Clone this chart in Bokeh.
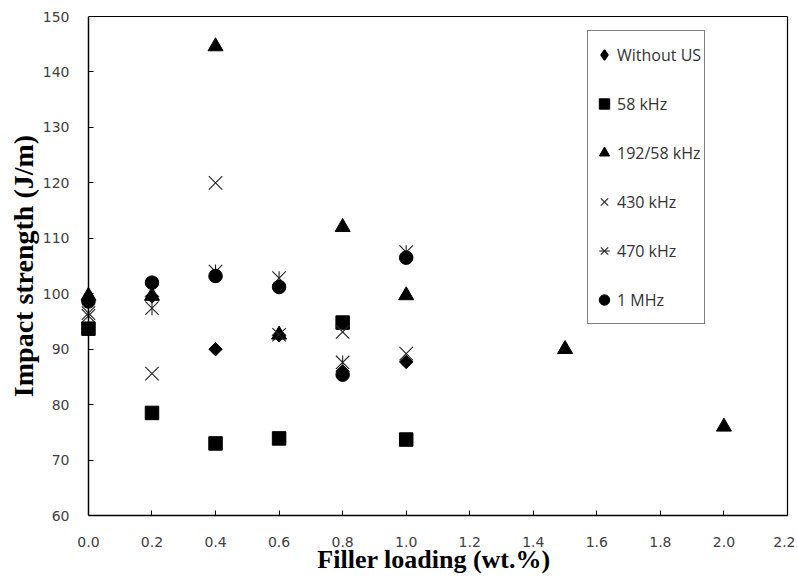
import math
from bokeh.plotting import figure
from bokeh.models import (ColumnDataSource, Legend, LegendItem, FixedTicker,
                          NumeralTickFormatter, Range1d, LinearAxis,
                          CustomLabelingPolicy)
from bokeh.embed import file_html
from bokeh.resources import INLINE

# ---- data ----
filler = [0.0, 0.2, 0.4, 0.6, 0.8, 1.0]
filler_ext = [0.0, 0.2, 0.4, 0.6, 0.8, 1.0, 1.5, 2.0]

without_us = [99.0, 99.5, 90.0, 92.5, 86.0, 87.7]
khz58 = [93.7, 78.5, 73.0, 73.9, 94.8, 73.7]
khz192_58 = [99.6, 99.6, 144.6, 92.6, 112.0, 99.7, 90.0, 76.0]
khz430 = [96.0, 85.6, 120.0, 92.6, 93.1, 89.2]
khz470 = [96.5, 97.4, 104.0, 102.8, 87.6, 107.5]
mhz1 = [98.6, 102.0, 103.2, 101.2, 85.4, 106.5]

x_ticks = [0.0, 0.2, 0.4, 0.6, 0.8, 1.0, 1.2, 1.4, 1.6, 1.8, 2.0, 2.2]
y_ticks = [60, 70, 80, 90, 100, 110, 120, 130, 140, 150]

x_pad = 0.025  # small room left of x=0 so markers there are not clipped

p = figure(width=795, height=576, output_backend="svg", toolbar_location=None,
           x_range=Range1d(x_ticks[0] - x_pad, x_ticks[-1]),
           y_range=Range1d(y_ticks[0], y_ticks[-1]),
           min_border_left=80, min_border_right=8, min_border_top=16,
           min_border_bottom=60)
p.background_fill_color = "white"
p.border_fill_color = "white"
p.outline_line_color = None
p.xgrid.visible = False
p.ygrid.visible = False

ink = "black"

s1 = ColumnDataSource(dict(x=filler, y=without_us))
s2 = ColumnDataSource(dict(x=filler, y=khz58))
s3 = ColumnDataSource(dict(x=filler_ext, y=khz192_58))
s4 = ColumnDataSource(dict(x=filler, y=khz430))
s5 = ColumnDataSource(dict(x=filler, y=khz470))
s6 = ColumnDataSource(dict(x=filler, y=mhz1))

# diamond glyph used for the legend entry (hidden beneath the rotated squares)
r1_leg = p.scatter("x", "y", source=s1, marker="diamond", size=9,
                   fill_color=ink, line_color=ink, line_width=1.5)
r1 = p.scatter("x", "y", source=s1, marker="square", angle=math.pi / 4, size=9.5,
               fill_color=ink, line_color=ink)
r2 = p.scatter("x", "y", source=s2, marker="square", size=13.5,
               fill_color=ink, line_color=ink)
r3 = p.scatter("x", "y", source=s3, marker="triangle", size=15,
               fill_color=ink, line_color=ink)
r4 = p.scatter("x", "y", source=s4, marker="x", size=19,
               line_color="#222222", line_width=1.1)
r5a = p.scatter("x", "y", source=s5, marker="x", size=19,
                line_color="#222222", line_width=1.1)
r5b = p.scatter("x", "y", source=s5, marker="dash", angle=math.pi / 2, size=14,
                line_color="#222222", line_width=1.1)
r6 = p.scatter("x", "y", source=s6, marker="circle", size=13.5,
               fill_color=ink, line_color=ink)

# ---- axes ----
for ax in (p.xaxis[0], p.yaxis[0]):
    ax.major_tick_out = 0
    ax.minor_tick_in = 0
    ax.minor_tick_out = 0
    ax.major_label_text_font = "DejaVu Sans"
    ax.major_label_text_font_size = "14px"
    ax.major_label_text_color = "#404040"
    ax.axis_label_text_font = "Liberation Serif"
    ax.axis_label_text_font_style = "bold"
    ax.axis_label_text_color = "black"

p.xaxis[0].axis_line_color = "black"
p.xaxis[0].axis_line_width = 1.5
p.xaxis[0].major_tick_in = 5
p.xaxis[0].major_tick_line_color = "black"
p.xaxis[0].ticker = FixedTicker(ticks=x_ticks)
p.xaxis[0].formatter = NumeralTickFormatter(format="0.0")
p.xaxis[0].bounds = (x_ticks[0], x_ticks[-1])
p.xaxis[0].major_label_standoff = 21
p.xaxis[0].axis_label = "Filler loading (wt.%)"
p.xaxis[0].axis_label_text_font_size = "26px"
p.xaxis[0].axis_label_standoff = -5

# labels + title of the y axis (line/ticks drawn by the axis at x = 0)
p.yaxis[0].axis_line_color = None
p.yaxis[0].major_tick_in = 0
p.yaxis[0].major_tick_line_color = None
p.yaxis[0].ticker = FixedTicker(ticks=y_ticks)
p.yaxis[0].major_label_standoff = 11
p.yaxis[0].axis_label = "Impact strength (J/m)"
p.yaxis[0].axis_label_text_font_size = "28px"
p.yaxis[0].axis_label_standoff = 1

no_labels = CustomLabelingPolicy(code="""
    const all = [...indices]
    for (const i of all) indices.unset(i)
    return indices
""")
y_line = LinearAxis(ticker=FixedTicker(ticks=y_ticks), fixed_location=x_ticks[0],
                    major_tick_in=5, major_tick_out=0, minor_tick_in=0,
                    minor_tick_out=0, major_label_standoff=0,
                    major_label_policy=no_labels,
                    axis_line_color="black", axis_line_width=1.5,
                    major_tick_line_color="black")
p.add_layout(y_line, "left")

# frame border lines on top and right
top_ax = LinearAxis(ticker=FixedTicker(ticks=[]), bounds=(x_ticks[0], x_ticks[-1]),
                    major_tick_out=0, major_tick_in=0, minor_tick_out=0,
                    minor_tick_in=0, major_label_standoff=0,
                    axis_line_color="black", axis_line_width=1.2)
right_ax = LinearAxis(ticker=FixedTicker(ticks=[]),
                      major_tick_out=0, major_tick_in=0, minor_tick_out=0,
                      minor_tick_in=0, major_label_standoff=0,
                      axis_line_color="black", axis_line_width=1.2)
p.add_layout(top_ax, "above")
p.add_layout(right_ax, "right")

# ---- legend ----
legend = Legend(items=[
    LegendItem(label="Without US", renderers=[r1_leg]),
    LegendItem(label="58 kHz", renderers=[r2]),
    LegendItem(label="192/58 kHz", renderers=[r3]),
    LegendItem(label="430 kHz", renderers=[r4]),
    LegendItem(label="470 kHz", renderers=[r5a, r5b]),
    LegendItem(label="1 MHz", renderers=[r6]),
], location=(507, 191))
legend.padding = 3
legend.margin = 0
legend.glyph_width = 26
legend.glyph_height = 41
legend.label_height = 41
legend.spacing = 8
legend.label_standoff = 0
legend.label_text_font = "Open Sans"
legend.label_text_font_size = "16px"
legend.label_text_color = "#333333"
legend.border_line_color = "black"
legend.border_line_width = 1.2
legend.background_fill_color = "white"
legend.background_fill_alpha = 1
p.add_layout(legend, "center")

open("out.html", "w").write(file_html(p, INLINE))
